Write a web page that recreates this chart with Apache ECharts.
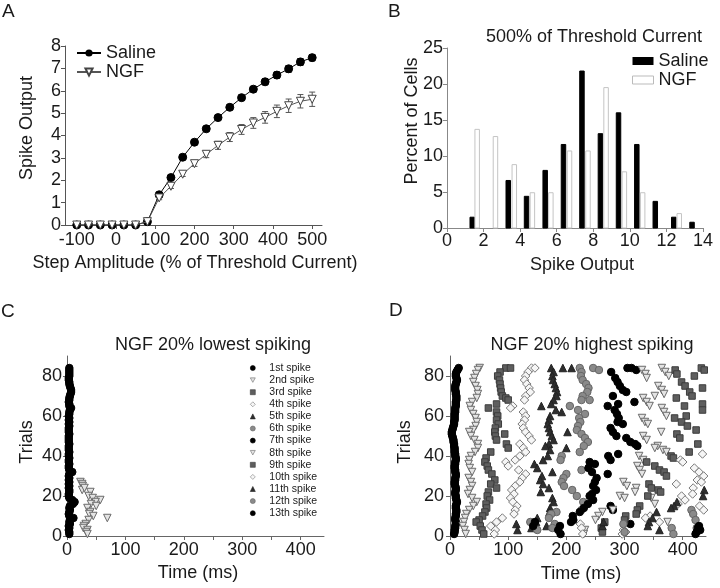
<!DOCTYPE html>
<html><head><meta charset="utf-8">
<script src="https://cdn.jsdelivr.net/npm/echarts@6/dist/echarts.min.js"></script>
<style>html,body{margin:0;padding:0;background:#fff}#c{width:720px;height:588px}</style>
</head><body><div id="c"></div>
<script>
// ---------------- DATA ----------------
// Panel A
const ampX = [-100,-70,-40,-10,20,50,80,110,140,170,200,230,260,290,320,350,380,410,440,470,500];
const salineMean = [0,0,0,0,0,0,0.15,1.35,2.12,3.03,3.7,4.3,4.8,5.26,5.69,6.07,6.4,6.7,6.98,7.29,7.48];
const salineErr  = [0,0,0,0,0,0,0.05,0.08,0.1,0.1,0.1,0.1,0.1,0.1,0.12,0.12,0.13,0.14,0.15,0.15,0.14];
const ngfMean = [0,0,0,0,0,0,0.15,1.21,1.73,2.27,2.74,3.16,3.56,3.93,4.27,4.56,4.81,5.08,5.33,5.53,5.62];
const ngfErr  = [0,0,0,0,0,0,0.05,0.08,0.1,0.1,0.12,0.15,0.18,0.2,0.22,0.24,0.26,0.28,0.3,0.3,0.32];
const ampTicks = [-100,0,100,200,300,400,500];

// Panel B (bar centres on the spike-output axis)
const histSalineX = [1.38,3.35,4.35,5.37,6.37,7.38,8.39,9.38,10.38,11.39,12.4,13.4];
const histSalineV = [1.5,6.6,4.4,8.0,11.6,21.8,13.1,16.0,11.6,3.7,1.5,0.8];
const histNgfX = [1.65,2.65,3.68,4.67,5.68,6.7,7.71,8.7,9.7,10.7,12.7];
const histNgfV = [13.7,12.7,8.8,4.9,4.9,10.7,10.7,19.5,7.8,4.9,2.0];

// Panel C / D raster
const spikeNames = ['1st spike','2nd spike','3rd spike','4th spike','5th spike','6th spike','7th spike','8th spike','9th spike','10th spike','11th spike','12th spike','13th spike'];
const timeTicks = [0,100,200,300,400];
const timeMinorTicks = [0,50,100,150,200,250,300,350,400];
const trialTicks = [0,20,40,60,80];

// first-spike latency (ms) for trials 1..84
const lowFirst = [4,4,3,4,3,5,4,5,11,4,3,4,5,4,5,10,13,9,4,3,3,4,4,3,4,3,4,3,4,3,4,9,4,3,3,4,3,3,4,3,3,4,3,3,3,4,3,3,3,3,4,3,3,3,4,3,4,3,4,3,4,4,5,7,4,4,3,4,4,5,6,7,7,6,5,4,4,3,3,4,4,4,4,4];
const lowSecond = [[23,27],[26,26],[27,25],[26,23],[30,24],[40,22],[37,20],[44,19],[57,18],[49,17],[41,16],[50,15],[35,14],[40,12],[38,11],[45,10],[69,9],[37,8],[32,6],[29,5],[28,4],[35,3],[33,2],[35,1]];

const highFirst = [7,8,8,9,9,10,10,9,9,10,10,11,11,10,10,11,12,11,10,10,9,9,10,10,9,8,8,9,9,10,10,9,9,8,8,9,9,10,10,9,9,8,8,8,7,7,6,6,5,4,3,3,4,5,6,7,7,8,8,8,8,9,9,9,10,10,10,11,11,11,10,10,9,9,9,10,11,12,11,10,10,11,13,15];
const high2 = [[51,84],[48,83],[45,81],[42,79],[40,77],[44,75],[47,73],[48,71],[46,69],[38,67],[34,65],[36,63],[40,61],[44,59],[46,57],[44,55],[40,53],[33,52],[36,50],[42,48],[48,46],[48,44],[43,42],[36,40],[33,38],[32,36],[34,34],[38,32],[32,29],[36,27],[38,25],[34,23],[31,21],[38,19],[46,17],[40,15],[33,13],[28,11],[26,9],[24,7],[22,5],[25,3],[27,1]];
const high3 = [[96,84],[104,84],[86,82],[82,80],[85,78],[86,76],[87,74],[88,72],[90,70],[96,69],[100,68],[80,66],[66,64],[80,62],[82,60],[80,58],[83,56],[78,54],[77,52],[94,51],[78,50],[80,48],[97,46],[100,44],[70,42],[62,39],[60,37],[64,35],[66,33],[72,31],[77,28],[70,26],[80,24],[66,22],[64,20],[68,18],[62,16],[63,14],[60,12],[56,10],[50,8],[45,7],[52,5],[55,3],[58,1]];
const high4 = [[140,84],[146,84],[134,82],[130,80],[128,78],[132,76],[136,74],[138,72],[130,70],[128,68],[108,65],[104,64],[126,62],[130,60],[128,58],[124,56],[126,54],[130,52],[136,50],[140,48],[120,46],[126,44],[130,42],[120,40],[112,38],[96,37],[100,35],[118,33],[130,31],[124,29],[120,27],[112,25],[106,23],[110,21],[104,19],[108,17],[115,15],[112,13],[110,11],[90,9],[80,7],[70,5],[78,3],[76,1]];
const high5 = [[174,84],[194,84],[209,84],[178,82],[176,80],[177,78],[180,76],[182,74],[184,72],[183,70],[178,68],[174,66],[157,65],[182,63],[192,62],[172,60],[170,58],[168,56],[170,54],[202,52],[172,52],[175,50],[178,48],[170,46],[200,44],[164,45],[172,43],[168,40],[160,38],[145,36],[150,34],[176,32],[158,30],[155,28],[160,26],[170,24],[156,22],[176,19],[178,17],[172,14],[171,12],[150,9],[148,7],[166,5],[140,4],[114,6],[116,3]];
const high6 = [[223,84],[246,84],[256,83],[226,82],[225,80],[228,78],[234,76],[238,74],[236,72],[228,70],[226,68],[240,68],[206,65],[220,63],[232,61],[222,59],[224,57],[220,55],[218,53],[226,51],[232,49],[237,47],[230,45],[223,42],[192,40],[190,38],[226,33],[200,31],[195,29],[192,27],[196,25],[210,23],[218,20],[229,17],[226,13],[183,12],[174,11],[170,9],[180,6],[176,4],[150,3],[138,7]];
const high7 = [[277,82],[305,84],[312,84],[320,83],[284,79],[288,77],[292,75],[297,73],[303,72],[280,70],[317,67],[289,66],[271,65],[283,63],[287,61],[290,59],[288,57],[297,56],[276,54],[280,52],[286,50],[303,49],[310,47],[318,46],[322,45],[289,41],[272,40],[276,38],[240,37],[249,36],[238,34],[244,32],[271,31],[252,29],[249,27],[246,25],[251,23],[244,21],[240,20],[246,18],[237,16],[230,14],[276,15],[280,13],[223,12],[211,10],[212,8],[208,7],[189,5],[186,3],[190,1],[143,5],[146,7],[310,6]];
const high8 = [[330,83],[336,81],[338,79],[364,84],[370,82],[376,80],[358,75],[364,73],[368,71],[352,70],[332,69],[338,67],[343,65],[364,64],[368,62],[372,60],[330,59],[335,57],[340,56],[363,52],[332,50],[338,48],[357,45],[352,44],[366,43],[372,42],[325,40],[332,38],[322,35],[326,33],[330,31],[298,27],[304,25],[320,24],[318,22],[292,20],[300,19],[346,19],[352,16],[280,13],[262,12],[255,10],[250,8],[374,7],[232,3],[230,1]];
const high9 = [[387,83],[390,81],[420,80],[432,84],[437,83],[398,77],[404,75],[434,74],[412,72],[416,70],[389,69],[403,65],[434,66],[434,63],[406,60],[386,59],[398,57],[408,55],[423,53],[390,51],[395,49],[426,46],[411,42],[380,40],[384,39],[338,37],[352,35],[360,33],[368,32],[372,30],[342,26],[346,24],[358,23],[362,22],[340,20],[326,15],[322,13],[320,11],[302,10],[300,8],[266,7],[260,4],[262,2]];
const high10 = [[434,41],[396,38],[400,37],[420,34],[428,32],[436,30],[425,28],[432,27],[389,26],[418,24],[417,21],[398,20],[404,18],[392,16],[429,15],[436,13],[344,10],[336,9],[360,7],[298,3],[302,2],[296,1],[224,6],[226,4],[228,1]];
const high11 = [[437,23],[435,20],[390,17],[385,15],[380,14],[355,12],[348,9],[342,7],[340,5],[360,3],[262,5],[264,7]];
const high12 = [[415,13],[418,11],[422,8],[424,4],[381,4],[384,1],[298,6],[300,2]];
const high13 = [[424,2],[426,4],[428,5],[430,3],[422,1]];

// ---------------- BUILD ----------------
const FONT = "'Liberation Sans', Arial, Helvetica, sans-serif";
const TXT = '#1a1a1a';
const TRI_DOWN = 'path://M0,0L10,0L5,9Z';
const MARKERS = [
  {symbol:'circle', size:7.5, color:'#000', border:'#000'},
  {symbol:TRI_DOWN, size:7.5, color:'#e4e4e4', border:'#6a6a6a'},
  {symbol:'rect', size:6.5, color:'#5e5e5e', border:'#3c3c3c'},
  {symbol:'diamond', size:8.5, color:'#f6f6f6', border:'#7a7a7a'},
  {symbol:'triangle', size:7.5, color:'#2e2e2e', border:'#222'},
  {symbol:'circle', size:7.5, color:'#8a8a8a', border:'#666'}
];

const chart = echarts.init(document.getElementById('c'), null, {renderer:'canvas'});

function valAxis(grid, o) {
  const lineColor = o.lineColor || '#555';
  const ax = {
    gridIndex: grid, type:'value', min:o.min, max:o.max,
    axisLine:{show:true, onZero:false, lineStyle:{color:lineColor, width:1}},
    axisTick:{show:true, length:4, lineStyle:{color:lineColor}},
    axisLabel:{show:true, fontSize:18, color:TXT, fontFamily:FONT, margin:o.margin},
    splitLine:{show:false}
  };
  if (o.interval) ax.interval = o.interval;
  if (o.labels) { ax.axisLabel.customValues = o.labels; }
  if (o.ticks) { ax.axisTick.customValues = o.ticks; }
  return ax;
}

const grids = [
  {left:65, top:46, width:257, height:179},
  {left:447, top:48, width:256, height:180},
  {left:67, top:356, width:257, height:180},
  {left:450, top:356, width:256, height:180}
];

const xAxes = [
  valAxis(0,{min:-130,max:525,labels:ampTicks,ticks:ampTicks,margin:6}),
  valAxis(1,{min:0,max:14,interval:2,margin:4,lineColor:'#888'}),
  valAxis(2,{min:0,max:440,labels:timeTicks,ticks:timeMinorTicks,margin:5,lineColor:'#666'}),
  valAxis(3,{min:0,max:440,labels:timeTicks,ticks:timeMinorTicks,margin:5,lineColor:'#666'})
];
const yAxes = [
  valAxis(0,{min:0,max:8,interval:1,margin:4}),
  valAxis(1,{min:0,max:25,interval:5,margin:4,lineColor:'#888'}),
  valAxis(2,{min:0,max:90,labels:trialTicks,ticks:trialTicks,margin:5,lineColor:'#666'}),
  valAxis(3,{min:0,max:90,labels:trialTicks,ticks:trialTicks,margin:6,lineColor:'#666'})
];

function errSeries(name, mean, err, color) {
  return {
    type:'custom', name:name, xAxisIndex:0, yAxisIndex:0, z:2,
    data: ampX.map((x,i)=>[x, mean[i], err[i]]),
    encode:{x:0, y:1},
    renderItem:(params, api)=>{
      const x = api.value(0), m = api.value(1), e = api.value(2);
      if (!e) return null;
      const t = api.coord([x, m+e]), b = api.coord([x, m-e]);
      const st = {stroke:color, lineWidth:1};
      return {type:'group', children:[
        {type:'line', shape:{x1:t[0],y1:t[1],x2:b[0],y2:b[1]}, style:st},
        {type:'line', shape:{x1:t[0]-3,y1:t[1],x2:t[0]+3,y2:t[1]}, style:st},
        {type:'line', shape:{x1:b[0]-3,y1:b[1],x2:b[0]+3,y2:b[1]}, style:st}
      ]};
    }
  };
}

function barSeries(name, xs, vs, fill, stroke) {
  const HALF = 0.15;
  return {
    type:'custom', name:name, xAxisIndex:1, yAxisIndex:1,
    itemStyle:{color:fill, borderColor:stroke},
    data: xs.map((x,i)=>[x, vs[i]]),
    encode:{x:0, y:1},
    renderItem:(params, api)=>{
      const x = api.value(0), v = api.value(1);
      const p0 = api.coord([x-HALF, v]), p1 = api.coord([x+HALF, 0]);
      return {type:'rect', shape:{x:p0[0]+0.5, y:p0[1], width:p1[0]-p0[0]-1, height:p1[1]-p0[1]},
        style:{fill:fill, stroke:stroke, lineWidth:1}};
    }
  };
}

function rasterSeries(grid, k, data) {
  const m = MARKERS[k % 6];
  return {
    type:'scatter', name:spikeNames[k], xAxisIndex:grid, yAxisIndex:grid,
    symbol:m.symbol, symbolSize:m.size,
    itemStyle:{color:m.color, borderColor:m.border, borderWidth:1, opacity:1},
    data:data, z:3 + k
  };
}

const lowSets = [lowFirst.map((t,i)=>[t, i+1]), lowSecond, [],[],[],[],[],[],[],[],[],[],[]];
const highSets = [highFirst.map((t,i)=>[t, i+1]), high2, high3, high4, high5, high6, high7, high8, high9, high10, high11, high12, high13];

const series = [
  errSeries('Saline err', salineMean, salineErr, '#000'),
  errSeries('NGF err', ngfMean, ngfErr, '#555'),
  {type:'line', name:'Saline', xAxisIndex:0, yAxisIndex:0, z:3,
   data: ampX.map((x,i)=>[x, salineMean[i]]),
   symbol:'circle', symbolSize:8, showSymbol:true,
   lineStyle:{color:'#000', width:1}, itemStyle:{color:'#000', borderColor:'#000'}},
  {type:'line', name:'NGF', xAxisIndex:0, yAxisIndex:0, z:4,
   data: ampX.map((x,i)=>[x, ngfMean[i]]),
   symbol:TRI_DOWN, symbolSize:8, showSymbol:true,
   lineStyle:{color:'#555', width:1}, itemStyle:{color:'#fff', borderColor:'#444', borderWidth:1}},
  barSeries('Saline (B)', histSalineX, histSalineV, '#000', '#000'),
  barSeries('NGF (B)', histNgfX, histNgfV, '#fff', '#c4c4c4')
];
lowSets.forEach((d,k)=>series.push(rasterSeries(2,k,d)));
highSets.forEach((d,k)=>series.push(rasterSeries(3,k,d)));

function txt(text, x, y, size, rot) {
  return {type:'text', x:x, y:y, rotation:rot||0, z:10,
    style:{text:text, fontSize:size, fontFamily:FONT, fill:TXT, align:'center', verticalAlign:'middle'}};
}

const graphics = [
  {type:'text', x:2, y:11.5, style:{text:'A', fontSize:19, fontFamily:FONT, fill:TXT, align:'left', verticalAlign:'middle'}},
  {type:'text', x:388, y:11.5, style:{text:'B', fontSize:19, fontFamily:FONT, fill:TXT, align:'left', verticalAlign:'middle'}},
  {type:'text', x:1, y:312, style:{text:'C', fontSize:19, fontFamily:FONT, fill:TXT, align:'left', verticalAlign:'middle'}},
  {type:'text', x:389, y:311, style:{text:'D', fontSize:19, fontFamily:FONT, fill:TXT, align:'left', verticalAlign:'middle'}},
  txt('500% of Threshold Current', 594, 37, 18),
  txt('NGF 20% lowest spiking', 213, 345, 18),
  txt('NGF 20% highest spiking', 592, 345, 18),
  txt('Step Amplitude (% of Threshold Current)', 195, 263, 18),
  txt('Spike Output', 27, 128, 18, Math.PI/2),
  txt('Spike Output', 582, 265, 18),
  txt('Percent of Cells', 412, 121, 18, Math.PI/2),
  txt('Time (ms)', 198, 573, 18),
  txt('Trials', 27, 442, 18, Math.PI/2),
  txt('Time (ms)', 581, 574, 18),
  txt('Trials', 405, 442, 18, Math.PI/2)
];

const option = {
  animation:false,
  backgroundColor:'#fff',
  textStyle:{fontFamily:FONT},
  grid:grids, xAxis:xAxes, yAxis:yAxes, series:series,
  legend:[
    {data:['Saline','NGF'], orient:'vertical', left:76, top:44, padding:0,
     itemWidth:24, itemHeight:9, itemGap:1, selectedMode:false,
     textStyle:{fontSize:18, lineHeight:18, color:TXT, fontFamily:FONT}},
    {data:[{name:'Saline (B)', icon:'rect', itemStyle:{color:'#000', borderColor:'#000'}},
           {name:'NGF (B)', icon:'rect', itemStyle:{color:'#fff', borderColor:'#bbb', borderWidth:1}}],
     formatter:n=>n.replace(' (B)',''), orient:'vertical', left:632, top:52, padding:0,
     itemWidth:21, itemHeight:8, itemGap:1, selectedMode:false,
     textStyle:{fontSize:18, lineHeight:18, color:TXT, fontFamily:FONT}},
    {data:spikeNames, orient:'vertical', left:250, top:362, padding:0,
     itemWidth:5, itemHeight:5, itemGap:0.1, selectedMode:false,
     itemStyle:{borderWidth:0.6},
     textStyle:{fontSize:10.5, lineHeight:12, color:TXT, fontFamily:FONT, padding:[0,0,0,9]}}
  ],
  graphic:graphics
};
chart.setOption(option);
</script></body></html>
